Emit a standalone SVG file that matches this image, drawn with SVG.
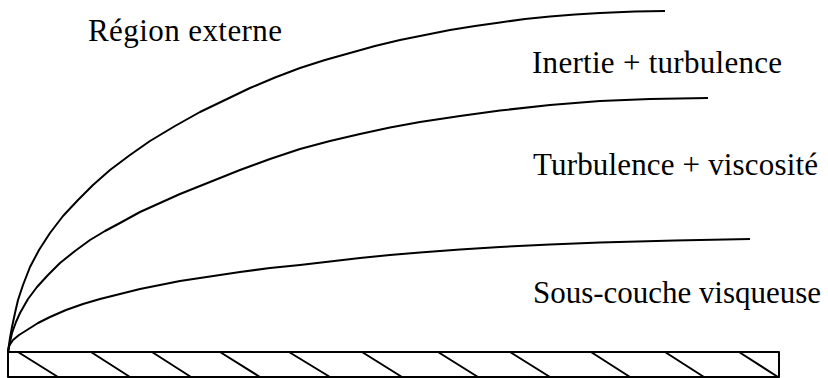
<svg xmlns="http://www.w3.org/2000/svg" width="828" height="378" viewBox="0 0 828 378">
<style>
.ln{fill:none;stroke:#000;stroke-width:2;stroke-linejoin:round}
.t{font-size:31px;fill:#000}
</style>
<rect width="828" height="378" fill="#fff"/>
<g id="curves">
<path id="c1" class="ln" d="M8,352 L9,345 L10,338 L12,327 L15,313 L18,300 L23,285 L30,267 L39,250 L50,233 L63,216 L78,200 L93,185 L110,170 L130,155 L150,141 L175,126 L200,112 L225,100 L250,88 L275,77.5 L300,68 L325,60 L350,53 L375,46 L400,40 L425,35 L450,30 L475,26 L500,22.5 L525,19 L550,16.5 L575,14.5 L600,13 L635,11.5 L665,11"/>
<path id="c2" class="ln" d="M8,352 L10,342 L12,333 L16,322 L20,313 L28,299 L37,287 L48,275 L60,263 L75,251 L90,240 L105,231 L120,223 L140,212 L160,203 L180,194 L200,186 L220,178 L240,170 L270,159 L300,149 L330,141 L360,134 L390,127.5 L420,122 L460,116 L500,110.5 L550,105 L600,101 L650,99 L708,98"/>
<path id="c3" class="ln" d="M8,352 L9,346 L13,340 L19,335 L27,330 L38,323 L50,317 L66,310 L83,304 L100,299 L120,294 L140,289 L160,285 L180,281 L200,278 L240,272 L270,268 L300,265 L330,261.5 L360,258 L390,255 L420,252.5 L460,249.5 L500,247 L550,244.5 L600,242.5 L675,240.5 L750,239"/>
</g>
<g id="wall">
<rect class="ln" x="8" y="352" width="771" height="25"/>
<path class="ln" d="M18,352 L58,377 M91,352 L130,377 M152,352 L191,377 M220,352 L260,377 M289,352 L330,377 M362,352 L402,377 M438,352 L478,377 M510,352 L550,377 M591,352 L630,377 M665,352 L704,377 M739,352 L778,377"/>
</g>
<g id="labels" font-family="'Liberation Serif', 'Times New Roman', serif">
<text class="t" x="88" y="41" textLength="194" lengthAdjust="spacing">Région externe</text>
<text class="t" x="532" y="73" textLength="250" lengthAdjust="spacing">Inertie + turbulence</text>
<text class="t" x="533" y="175" textLength="285" lengthAdjust="spacing">Turbulence + viscosité</text>
<text class="t" x="533" y="303" textLength="288" lengthAdjust="spacing">Sous-couche visqueuse</text>
</g>
</svg>
